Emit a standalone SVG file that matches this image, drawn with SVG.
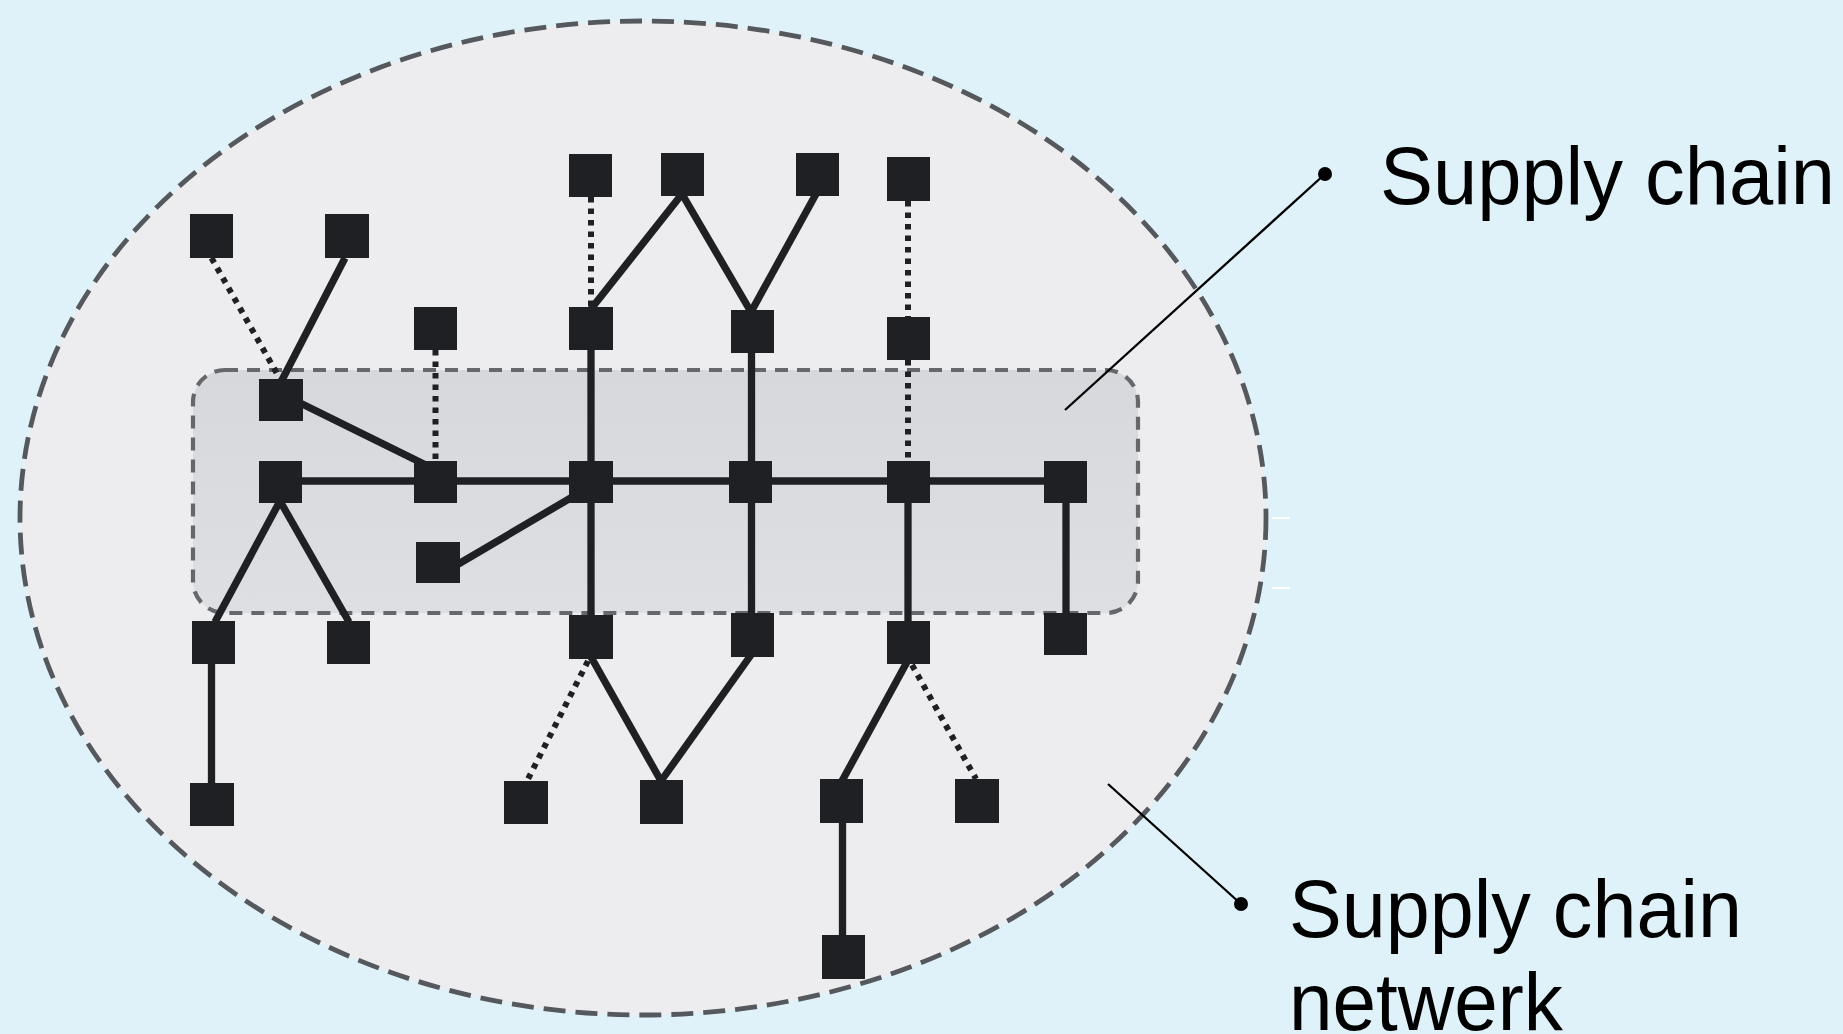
<svg xmlns="http://www.w3.org/2000/svg" width="1843" height="1034" viewBox="0 0 1843 1034">
<style>
.n{fill:#1f2023}
.s{stroke:#1f2023;stroke-width:7.3;fill:none}
.d{stroke:#1f2023;stroke-width:6;fill:none;stroke-dasharray:5.5 6}
.lead{stroke:#000;stroke-width:2.3;fill:none}
.lbl{font-family:"Liberation Sans",Arial,sans-serif;font-size:81px;fill:#000}
</style>
<defs>
<linearGradient id="rg" x1="0" y1="0" x2="0" y2="1">
<stop offset="0" stop-color="#d7d8db"/>
<stop offset="1" stop-color="#dedfe2"/>
</linearGradient>
</defs>
<rect width="1843" height="1034" fill="#dff2f9"/>
<ellipse id="network" cx="643" cy="518" rx="623" ry="497" fill="#ededef" stroke="#55585d" stroke-width="4.8" stroke-dasharray="22 10"/>
<rect id="chain" x="193" y="370" width="945" height="243" rx="32" fill="url(#rg)" stroke="#65676b" stroke-width="4.2" stroke-dasharray="13 9"/>
<line x1="1272" y1="518" x2="1290" y2="518" stroke="#fff" stroke-width="2"/>
<line x1="1272" y1="588" x2="1290" y2="588" stroke="#fff" stroke-width="2"/>
<g id="connectors">
<line class="d" x1="211.5" y1="258" x2="280" y2="379"/>
<line class="s" x1="345" y1="258" x2="281" y2="382"/>
<line class="s" x1="290" y1="398" x2="436" y2="470"/>
<line class="d" x1="435.5" y1="350" x2="435.5" y2="461"/>
<line class="s" x1="280" y1="481" x2="1065" y2="481"/>
<line class="s" x1="455" y1="566" x2="591" y2="486"/>
<line class="s" x1="591" y1="328" x2="591" y2="637"/>
<line class="d" x1="591" y1="197" x2="591" y2="307"/>
<line class="s" x1="591" y1="309" x2="682" y2="194"/>
<line class="s" x1="682" y1="194" x2="751" y2="312"/>
<line class="s" x1="816" y1="194" x2="751" y2="312"/>
<line class="s" x1="751.5" y1="331" x2="751.5" y2="635"/>
<line class="d" x1="908" y1="201" x2="908" y2="317"/>
<line class="d" x1="908" y1="360" x2="908" y2="461"/>
<line class="s" x1="908" y1="482" x2="908" y2="642"/>
<line class="s" x1="1066" y1="482" x2="1066" y2="634"/>
<line class="s" x1="280" y1="501" x2="215" y2="622"/>
<line class="s" x1="280" y1="501" x2="349" y2="622"/>
<line class="s" x1="211.5" y1="664" x2="211.5" y2="783"/>
<line class="d" x1="588" y1="661" x2="527" y2="781"/>
<line class="s" x1="591" y1="657" x2="661" y2="781"/>
<line class="s" x1="751" y1="655" x2="661" y2="781"/>
<line class="s" x1="907" y1="662" x2="842" y2="781"/>
<line class="d" x1="912" y1="665" x2="976" y2="779"/>
<line class="s" x1="842.5" y1="823" x2="842.5" y2="935"/>
</g>
<g id="n1"><rect class="n" x="569" y="154" width="43" height="43"/></g>
<g id="n2"><rect class="n" x="661" y="153" width="43" height="43"/></g>
<g id="n3"><rect class="n" x="796" y="153" width="43" height="43"/></g>
<g id="n4"><rect class="n" x="887" y="157" width="43" height="44"/></g>
<g id="n5"><rect class="n" x="190" y="214" width="43" height="44"/></g>
<g id="n6"><rect class="n" x="325" y="214" width="44" height="44"/></g>
<g id="n7"><rect class="n" x="414" y="307" width="43" height="43"/></g>
<g id="n8"><rect class="n" x="569" y="307" width="44" height="43"/></g>
<g id="n9"><rect class="n" x="731" y="310" width="43" height="43"/></g>
<g id="n10"><rect class="n" x="887" y="317" width="43" height="43"/></g>
<g id="n11"><rect class="n" x="259" y="379" width="44" height="42"/></g>
<g id="n12"><rect class="n" x="259" y="461" width="43" height="42"/></g>
<g id="n13"><rect class="n" x="414" y="461" width="43" height="42"/></g>
<g id="n14"><rect class="n" x="569" y="461" width="44" height="42"/></g>
<g id="n15"><rect class="n" x="729" y="461" width="43" height="42"/></g>
<g id="n16"><rect class="n" x="887" y="461" width="43" height="42"/></g>
<g id="n17"><rect class="n" x="1044" y="461" width="43" height="42"/></g>
<g id="n18"><rect class="n" x="416" y="542" width="44" height="41"/></g>
<g id="n19"><rect class="n" x="192" y="621" width="43" height="43"/></g>
<g id="n20"><rect class="n" x="327" y="621" width="43" height="43"/></g>
<g id="n21"><rect class="n" x="569" y="615" width="44" height="44"/></g>
<g id="n22"><rect class="n" x="731" y="613" width="43" height="44"/></g>
<g id="n23"><rect class="n" x="887" y="621" width="43" height="43"/></g>
<g id="n24"><rect class="n" x="1044" y="613" width="43" height="42"/></g>
<g id="n25"><rect class="n" x="190" y="783" width="44" height="43"/></g>
<g id="n26"><rect class="n" x="504" y="781" width="44" height="43"/></g>
<g id="n27"><rect class="n" x="640" y="780" width="43" height="44"/></g>
<g id="n28"><rect class="n" x="820" y="779" width="43" height="44"/></g>
<g id="n29"><rect class="n" x="955" y="779" width="44" height="44"/></g>
<g id="n30"><rect class="n" x="822" y="935" width="43" height="44"/></g>
<g id="label-chain">
<line class="lead" x1="1065" y1="410" x2="1325" y2="174"/>
<circle cx="1325" cy="174" r="7" fill="#000"/>
<text class="lbl" x="1380" y="204" textLength="455" lengthAdjust="spacingAndGlyphs">Supply chain</text>
</g>
<g id="label-network">
<line class="lead" x1="1108" y1="784" x2="1241" y2="904"/>
<circle cx="1241" cy="904" r="7" fill="#000"/>
<text class="lbl" x="1289" y="937" textLength="453" lengthAdjust="spacingAndGlyphs">Supply chain</text>
<text class="lbl" x="1289" y="1030" textLength="274" lengthAdjust="spacingAndGlyphs">netwerk</text>
</g>
</svg>
